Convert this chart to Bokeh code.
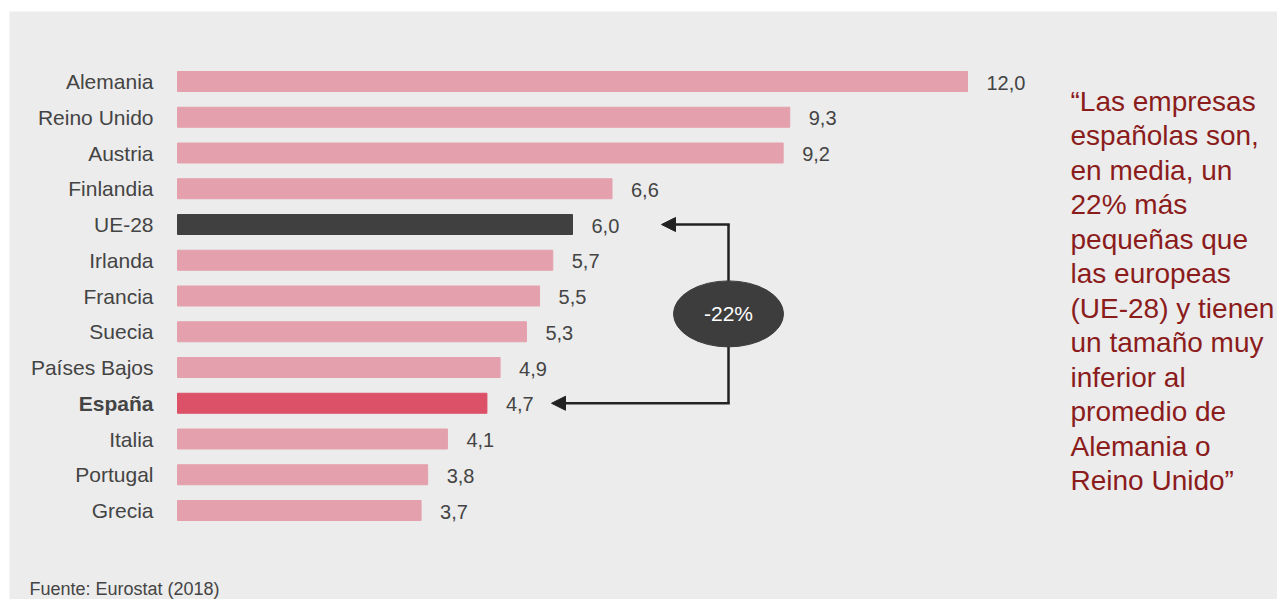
from bokeh.plotting import figure
from bokeh.models import Range1d, ColumnDataSource, Arrow, NormalHead
from bokeh.core.properties import value
from bokeh.embed import file_html
from bokeh.resources import INLINE

# ---- data ----
countries = ["Alemania", "Reino Unido", "Austria", "Finlandia", "UE-28", "Irlanda",
             "Francia", "Suecia", "Países Bajos", "España", "Italia", "Portugal", "Grecia"]
values = [12.0, 9.3, 9.2, 6.6, 6.0, 5.7, 5.5, 5.3, 4.9, 4.7, 4.1, 3.8, 3.7]
diff_label = "-22%"
quote_lines = ["“Las empresas", "españolas son,", "en media, un", "22% más",
               "pequeñas que", "las europeas", "(UE-28) y tienen", "un tamaño muy",
               "inferior al", "promedio de", "Alemania o", "Reino Unido”"]
source_note = "Fuente: Eurostat (2018)"

# ---- styling ----
PINK = "#e4a0ac"
DARK = "#404040"
SPAIN = "#dc5068"
BG = "#ececec"
TXT = "#444444"
QUOTE = "#8b1c1c"
FONT = value("Liberation Sans")

W, H = 1277, 599
BL, BT = 9, 11              # white border left / top
FW, FH = W - BL, H - BT     # frame size
PPU = 790 / 12.0            # pixels per unit on x
X0 = 177 - BL               # frame px of value 0
RS = 35.75                  # row spacing px
Y0 = 81 - BT                # frame px of first row


def dx(px):
    return (px - BL - X0) / PPU


def dy(py):
    return (py - BT - Y0) / RS


colors = []
styles = []
for c in countries:
    if c == "UE-28":
        colors.append(DARK)
    elif c == "España":
        colors.append(SPAIN)
    else:
        colors.append(PINK)
    styles.append("bold" if c == "España" else "normal")

idx = list(range(len(countries)))
src = ColumnDataSource(dict(
    y=idx, v=values, name=countries, color=colors, style=styles,
    lab=[f"{v:.1f}".replace(".", ",") for v in values],
    zero=[0] * len(values),
))

p = figure(width=W, height=H,
           x_range=Range1d(-X0 / PPU, (FW - X0) / PPU),
           y_range=Range1d((FH - Y0) / RS, -Y0 / RS),
           output_backend="svg", toolbar_location=None,
           min_border_left=BL, min_border_top=BT, min_border_right=0, min_border_bottom=0,
           x_axis_location=None, y_axis_location=None)
p.grid.visible = False
p.outline_line_color = None
p.background_fill_color = BG
p.border_fill_color = "white"

p.hbar(y="y", left=0, right="v", height=20 / RS, color="color", source=src)

p.text(x="zero", y="y", text="name", x_offset=-24, text_align="right",
       text_baseline="middle", text_font=FONT, text_font_size="21px",
       text_font_style="style", text_color=TXT, source=src)

p.text(x="v", y="y", text="lab", x_offset=19, y_offset=1, text_align="left",
       text_baseline="middle", text_font=FONT, text_font_size="20px",
       text_color=TXT, source=src)

# ---- bracket annotation ----
i_ue = countries.index("UE-28")
i_es = countries.index("España")
xb = dx(728)
LC = "#222222"
p.line(x=[xb, xb], y=[i_ue, i_es], line_color=LC, line_width=2.5)
for y_row, tip in ((i_ue, dx(661)), (i_es, dx(551))):
    p.add_layout(Arrow(end=NormalHead(size=14, fill_color=LC, line_color=LC, line_width=1),
                       x_start=xb + 1.25 / PPU, y_start=y_row, x_end=tip, y_end=y_row,
                       line_color=LC, line_width=2.5))

yc = (i_ue + i_es) / 2
p.ellipse(x=[xb], y=[yc], width=110, height=66,
          width_units="screen", height_units="screen",
          fill_color="#3d3d3d", line_color="#3d3d3d")
p.text(x=[xb], y=[yc], text=[diff_label], text_align="center",
       text_baseline="middle", text_font=FONT, text_font_size="21px", text_color="white")

# ---- quote ----
p.text(x=[dx(1070)] * len(quote_lines),
       y=[dy(101 + i * 34.45) for i in range(len(quote_lines))],
       text=quote_lines, text_align="left", text_baseline="middle",
       text_font=FONT, text_font_size="28px", text_color=QUOTE)

# ---- source ----
p.text(x=[dx(29)], y=[dy(588)], text=[source_note], text_align="left",
       text_baseline="middle", text_font=FONT, text_font_size="18px", text_color=TXT)

open("out.html", "w").write(file_html(p, INLINE))
